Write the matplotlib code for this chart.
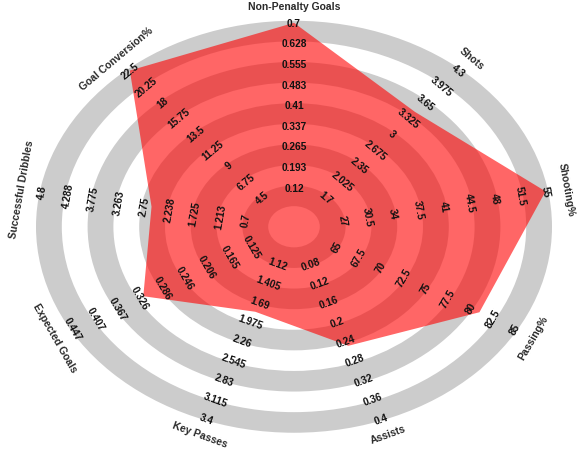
import numpy as np
import matplotlib
matplotlib.use("Agg")
import matplotlib.pyplot as plt
from matplotlib.patches import Circle, Polygon

# Radar parameters, clockwise from the top
params = ["Non-Penalty Goals", "Shots", "Shooting%", "Passing%", "Assists",
          "Key Passes", "Expected Goals", "Successful Dribbles", "Goal Conversion%"]

# Lower / upper bound for every parameter
range_low = [0.12, 1.7, 27, 65, 0.08, 1.12, 0.125, 0.7, 4.5]
range_high = [0.7, 4.3, 55, 85, 0.4, 3.4, 0.447, 4.8, 22.5]

# Player values
values = [0.7, 3.45, 55, 81, 0.25, 1.83, 0.32, 2.6, 22.5]

# Ring labels for each parameter (inner ring to outer ring)
ring_labels = [
    ["0.12", "0.193", "0.265", "0.337", "0.41", "0.483", "0.555", "0.628", "0.7"],
    ["1.7", "2.025", "2.35", "2.675", "3", "3.325", "3.65", "3.975", "4.3"],
    ["27", "30.5", "34", "37.5", "41", "44.5", "48", "51.5", "55"],
    ["65", "67.5", "70", "72.5", "75", "77.5", "80", "82.5", "85"],
    ["0.08", "0.12", "0.16", "0.2", "0.24", "0.28", "0.32", "0.36", "0.4"],
    ["1.12", "1.405", "1.69", "1.975", "2.26", "2.545", "2.83", "3.115", "3.4"],
    ["0.125", "0.165", "0.206", "0.246", "0.286", "0.326", "0.367", "0.407", "0.447"],
    ["0.7", "1.213", "1.725", "2.238", "2.75", "3.263", "3.775", "4.288", "4.8"],
    ["4.5", "6.75", "9", "11.25", "13.5", "15.75", "18", "20.25", "22.5"],
]

ring_color = "#CCCCCC"
radar_color = "#FF0000"
font = "Liberation Sans"

n = len(params)
angles = np.deg2rad(90 - np.arange(n) * 360 / n)

W, H = 587, 452
fig = plt.figure(figsize=(W / 100, H / 100), dpi=100)
fig.patch.set_facecolor("white")
ax = fig.add_axes([0, 0, 1, 1])
cx, cy, sx, sy = 294, 227.75, 25.8, 20.6
ax.set_xlim(-cx / sx, (W - cx) / sx)
ax.set_ylim(-(H - cy) / sy, cy / sy)
ax.axis("off")

# Alternating grey / white rings, drawn from the outside in
for r in range(10, 0, -1):
    ax.add_patch(Circle((0, 0), r, facecolor=ring_color if r % 2 == 0 else "white",
                        edgecolor="none", zorder=1))

# Map each value onto the radius scale used by the ring labels
inner_r, outer_r = 1.9, 9.9
radii = [inner_r + (v - lo) / (hi - lo) * (outer_r - inner_r)
         for v, lo, hi in zip(values, range_low, range_high)]
pts = np.column_stack([np.array(radii) * np.cos(angles), np.array(radii) * np.sin(angles)])
ax.add_patch(Polygon(pts, closed=True, facecolor=radar_color, alpha=0.6,
                     edgecolor="none", zorder=2))


def text_rotation(theta):
    rot = np.rad2deg(theta) - 90
    rot = (rot + 180) % 360 - 180
    if rot <= -90:
        rot += 180
    elif rot > 90:
        rot -= 180
    return rot


for k, theta in enumerate(angles):
    rot = text_rotation(theta)
    for i, lab in enumerate(ring_labels[k]):
        r = i + 1 + 0.9
        ax.text(r * np.cos(theta), r * np.sin(theta), lab, rotation=rot,
                rotation_mode="anchor", ha="center", va="center",
                fontsize=7.3, fontweight="bold", family=font, color="#111111", zorder=3)
    r = 10.7
    ax.text(r * np.cos(theta), r * np.sin(theta), params[k], rotation=rot,
            rotation_mode="anchor", ha="center", va="center",
            fontsize=7.5, fontweight="bold", family=font, color="#2a2a2a", zorder=3)

fig.savefig("out.png", dpi=100, facecolor="white")
